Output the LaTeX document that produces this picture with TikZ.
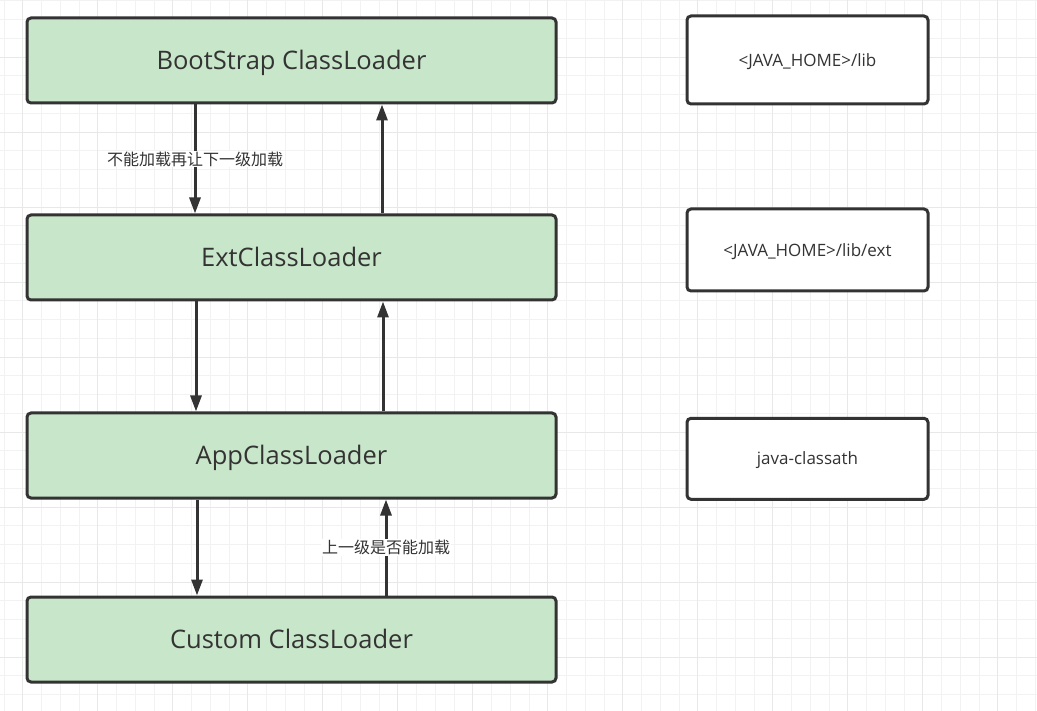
\documentclass[tikz,border=0pt]{standalone}
\usepackage{fontspec}
\setmainfont{Open Sans}
\newfontfamily\cjk{Noto Sans CJK SC}
\usetikzlibrary{arrows.meta}
\definecolor{loadgreen}{HTML}{C8E6C9}
\definecolor{darkline}{HTML}{333333}
\definecolor{gridminor}{HTML}{F2F2F2}
\definecolor{gridmajor}{HTML}{E8E8E8}
\tikzset{
  loader/.style={draw=darkline, fill=loadgreen, line width=3pt, rounded corners=4pt,
    minimum width=529pt, minimum height=85pt, text=darkline, font=\fontsize{25.5}{28}\selectfont,
    text height=18.2pt, text depth=0pt},
  pathbox/.style={draw=darkline, fill=white, line width=3pt, rounded corners=4pt,
    minimum width=241pt, text=darkline, font=\fontsize{17}{20}\selectfont,
    text height=12.1pt, text depth=0pt},
  link/.style={draw=darkline, line width=3pt, -{Triangle[length=16pt,width=11pt]}},
  linklabel/.style={fill=white, text=darkline, font=\cjk\fontsize{16}{18}\selectfont, inner sep=1pt}
}
\begin{document}
\begin{tikzpicture}[x=1pt,y=-1pt]
  \useasboundingbox (0,0) rectangle (1037,711);
  \fill[white] (0,0) rectangle (1037,711);
  \foreach \i in {0,...,55} \draw[gridminor, line width=0.8pt] (3.95+18.75*\i,0) -- (3.95+18.75*\i,711);
  \foreach \i in {0,...,38} \draw[gridminor, line width=0.8pt] (0,0.75+18.75*\i) -- (1037,0.75+18.75*\i);
  \foreach \i in {0,...,13} \draw[gridmajor, line width=0.8pt] (22.7+75*\i,0) -- (22.7+75*\i,711);
  \foreach \i in {0,...,9} \draw[gridmajor, line width=0.8pt] (0,-18+75*\i) -- (1037,-18+75*\i);

  \node[loader] (boot) at (291.5,60.5) {BootStrap ClassLoader};
  \node[loader] (ext) at (291.5,257.5) {ExtClassLoader};
  \node[loader] (app) at (291.5,455.5) {AppClassLoader};
  \node[loader] (custom) at (291.5,639.5) {Custom ClassLoader};

  \node[pathbox, minimum height=88pt] (libpath) at (807.5,60) {<JAVA\_HOME>/lib};
  \node[pathbox, minimum height=82pt] (extpath) at (807.5,250) {<JAVA\_HOME>/lib/ext};
  \node[pathbox, minimum height=81pt] (cppath) at (807.5,458.8) {java-classath};

  \draw[link] ([xshift=-96.5pt]boot.south) -- node[linklabel] {不能加载再让下一级加载} ([xshift=-96.5pt]ext.north);
  \draw[link] ([xshift=90.5pt]ext.north) -- ([xshift=90.5pt]boot.south);
  \draw[link] ([xshift=-95.5pt]ext.south) -- ([xshift=-95.5pt]app.north);
  \draw[link] ([xshift=91.5pt]app.north) -- ([xshift=91.5pt]ext.south);
  \draw[link] ([xshift=-94.5pt]app.south) -- ([xshift=-94.5pt]custom.north);
  \draw[link] ([xshift=94.5pt]custom.north) -- node[linklabel] {上一级是否能加载} ([xshift=94.5pt]app.south);
\end{tikzpicture}
\end{document}
